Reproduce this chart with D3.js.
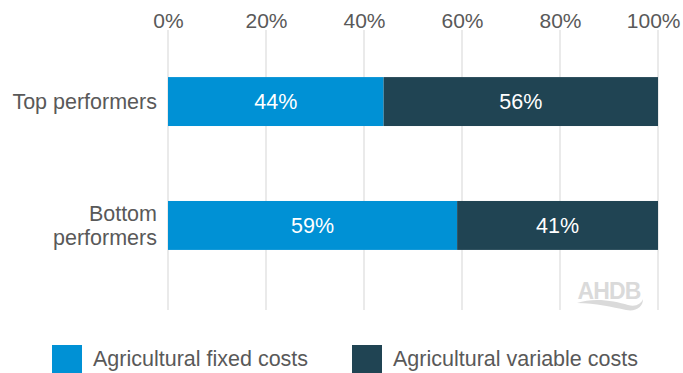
<!DOCTYPE html>
<html>
<head>
<meta charset="utf-8">
<script src="https://cdn.jsdelivr.net/npm/d3@7"></script>
<style>
  html, body { margin: 0; padding: 0; background: #fff; }
  svg { display: block; font-family: "Liberation Sans", Arial, Helvetica, sans-serif; }
</style>
</head>
<body>
<svg id="chart" width="683" height="373"></svg>
<script>
// Cost split by performance group (shares of total, %)
const groups = ["Top performers", "Bottom performers"];
const groupLines = [["Top performers"], ["Bottom", "performers"]];
const seriesNames = ["Agricultural fixed costs", "Agricultural variable costs"];
const fixedCosts = [44, 59];
const variableCosts = [56, 41];
const tickValues = [0, 20, 40, 60, 80, 100];
const colors = ["#0091d5", "#204453"];

const svg = d3.select("#chart");
const textColor = "#595959";
const fontSize = 21.5;

const x = d3.scaleLinear().domain([0, 100]).range([168, 658]);
const y = d3.scaleBand().domain(groups).range([30, 297]).paddingInner(0.605).paddingOuter(0.38);

// vertical gridlines
svg.append("g")
  .selectAll("line")
  .data(tickValues)
  .join("line")
  .attr("x1", d => x(d)).attr("x2", d => x(d))
  .attr("y1", 30).attr("y2", 310)
  .attr("stroke", "#e3e3e3")
  .attr("stroke-width", 1.5);

// top axis labels
const axis = d3.axisTop(x).tickValues(tickValues).tickFormat(d => d + "%").tickSize(0).tickPadding(0);
const axisG = svg.append("g").attr("transform", "translate(0,28)").call(axis);
axisG.select(".domain").remove();
axisG.selectAll("text")
  .attr("font-size", 21)
  .attr("fill", textColor)
  .attr("font-family", "Liberation Sans, Arial, sans-serif")
  .attr("dy", 0);
// keep the last label inside the canvas
axisG.selectAll(".tick").filter(d => d === 100).select("text")
  .attr("text-anchor", "end")
  .attr("x", 680 - x(100));

// watermark logo
const logo = svg.append("g").attr("fill", "#dadada");
logo.append("text")
  .attr("x", 609).attr("y", 299)
  .attr("text-anchor", "middle")
  .attr("font-size", 23)
  .attr("font-weight", "bold")
  .attr("letter-spacing", -0.8)
  .text("AHDB");
logo.append("path")
  .attr("d", "M577,303 C594,297 615,301 628,305 C636,307 641,304 643,299 C643,307 636,312 626,310 C612,307 596,303 577,303 Z");

// stacked bars
const stackData = groups.map((g, i) => ({ group: g, fixed: fixedCosts[i], variable: variableCosts[i] }));
const stack = d3.stack().keys(["fixed", "variable"]);
const layers = stack(stackData);

layers.forEach((layer, li) => {
  const g = svg.append("g");
  g.selectAll("rect")
    .data(layer)
    .join("rect")
    .attr("x", d => x(d[0]))
    .attr("y", d => y(d.data.group))
    .attr("width", d => x(d[1]) - x(d[0]))
    .attr("height", y.bandwidth())
    .attr("fill", colors[li]);
  g.selectAll("text")
    .data(layer)
    .join("text")
    .attr("x", d => (x(d[0]) + x(d[1])) / 2)
    .attr("y", d => y(d.data.group) + y.bandwidth() / 2)
    .attr("dy", "0.34em")
    .attr("text-anchor", "middle")
    .attr("font-size", fontSize)
    .attr("fill", "#ffffff")
    .text(d => (d[1] - d[0]) + "%");
});

// category labels
groups.forEach((g, i) => {
  const lines = groupLines[i];
  const cy = y(g) + y.bandwidth() / 2;
  const lh = 24;
  const t = svg.append("text")
    .attr("text-anchor", "end")
    .attr("font-size", fontSize)
    .attr("fill", textColor);
  lines.forEach((ln, j) => {
    t.append("tspan")
      .attr("x", 157)
      .attr("y", cy + (j - (lines.length - 1) / 2) * lh)
      .attr("dy", "0.34em")
      .text(ln);
  });
});

// legend
const legendX = [52, 352];
seriesNames.forEach((name, i) => {
  const lg = svg.append("g");
  lg.append("rect")
    .attr("x", legendX[i]).attr("y", 345)
    .attr("width", 30).attr("height", 28)
    .attr("fill", colors[i]);
  lg.append("text")
    .attr("x", legendX[i] + 41).attr("y", 359)
    .attr("dy", "0.34em")
    .attr("font-size", fontSize)
    .attr("fill", textColor)
    .text(name);
});
</script>
</body>
</html>
